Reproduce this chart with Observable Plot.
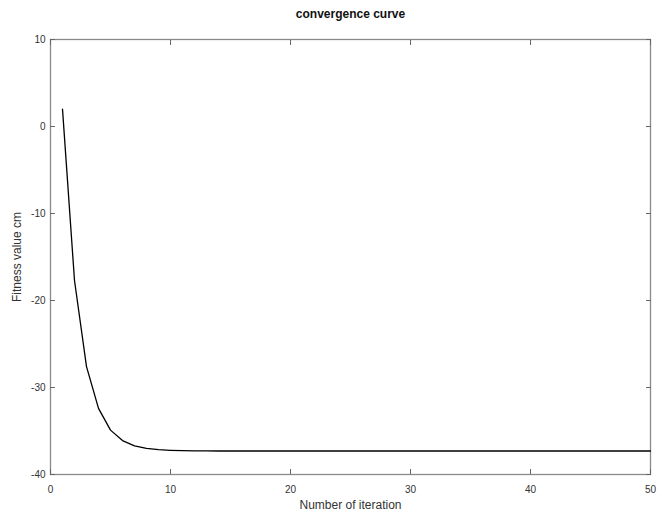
<!DOCTYPE html>
<html><head><meta charset="utf-8">
<script src="https://cdn.jsdelivr.net/npm/d3@7"></script>
<script src="https://cdn.jsdelivr.net/npm/@observablehq/plot@0.6"></script>
<style>body{margin:0;background:#fff}</style>
</head><body><div id="chart"></div>
<script>
const iterations = [1,2,3,4,5,6,7,8,9,10,11,12,13,14,15,16,17,18,19,20,21,22,23,24,25,26,27,28,29,30,31,32,33,34,35,36,37,38,39,40,41,42,43,44,45,46,47,48,49,50];
const fitness = [2.0,-17.7,-27.6,-32.4,-34.9,-36.1,-36.7,-37.0,-37.15,-37.22,-37.26,-37.28,-37.29,-37.3,-37.3,-37.3,-37.3,-37.3,-37.3,-37.3,-37.3,-37.3,-37.3,-37.3,-37.3,-37.3,-37.3,-37.3,-37.3,-37.3,-37.3,-37.3,-37.3,-37.3,-37.3,-37.3,-37.3,-37.3,-37.3,-37.3,-37.3,-37.3,-37.3,-37.3,-37.3,-37.3,-37.3,-37.3,-37.3,-37.3];
const xTicks = [0,10,20,30,40,50];
const yTicks = [10,0,-10,-20,-30,-40];
const titleText = "convergence curve";
const xLabel = "Number of iteration";
const yLabel = "Fitness value cm";

const data = iterations.map((it, i) => ({it, f: fitness[i]}));
const font = "'Liberation Sans', Arial, Helvetica, sans-serif";
const fmt = d => `${d}`;

const chart = Plot.plot({
  width: 670, height: 513,
  marginLeft: 50, marginRight: 20, marginTop: 39, marginBottom: 39,
  style: {fontFamily: font, fontSize: "10px", color: "#333", background: "#fff", overflow: "visible"},
  x: {domain: [0, 50]},
  y: {domain: [-40, 10]},
  marks: [
    Plot.frame({stroke: "#8a8a8a", strokeWidth: 1.3}),
    Plot.axisX(xTicks, {anchor: "bottom", tickSize: -5, tickFormat: () => "", label: null, stroke: "#666"}),
    Plot.axisX(xTicks, {anchor: "top", tickSize: -5, tickFormat: () => "", label: null, stroke: "#666"}),
    Plot.axisY(yTicks, {anchor: "left", tickSize: -5, tickFormat: () => "", label: null, stroke: "#666"}),
    Plot.axisY(yTicks, {anchor: "right", tickSize: -5, tickFormat: () => "", label: null, stroke: "#666"}),
    Plot.axisX(xTicks, {anchor: "bottom", tickSize: 0, tickPadding: 11, tickFormat: fmt, label: null, fill: "#333"}),
    Plot.axisY(yTicks, {anchor: "left", tickSize: 0, tickPadding: 5, tickFormat: fmt, label: null, fill: "#333"}),
    Plot.line(data, {x: "it", y: "f", stroke: "#000", strokeWidth: 1.3}),
    Plot.text([titleText], {frameAnchor: "top", lineAnchor: "middle", textAnchor: "middle", dy: -25, fontWeight: "bold", fontSize: 12, fill: "#111"}),
    Plot.text([xLabel], {frameAnchor: "bottom", lineAnchor: "middle", textAnchor: "middle", dy: 31, fontSize: 12, fill: "#333"}),
    Plot.text([yLabel], {frameAnchor: "left", lineAnchor: "middle", textAnchor: "middle", dx: -33, rotate: -90, fontSize: 12, fill: "#333"})
  ]
});
document.getElementById("chart").appendChild(chart);
</script>
</body></html>
